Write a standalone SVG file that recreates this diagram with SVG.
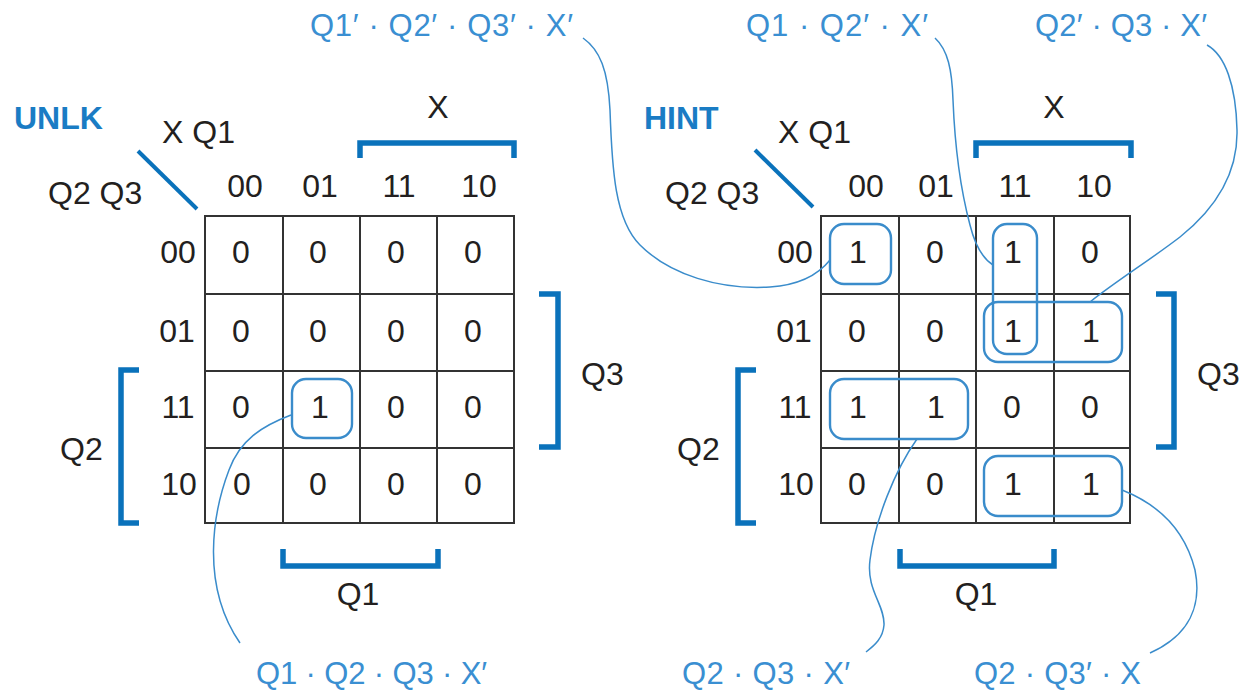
<svg xmlns="http://www.w3.org/2000/svg" width="1240" height="691" viewBox="0 0 1240 691">
<style>
text{font-family:"Liberation Sans",Arial,sans-serif;font-size:32px;fill:#231f20}
.d{text-anchor:middle}
.title{font-weight:bold;fill:#1a7cc4;font-size:32px}
.term{fill:#3a8fd2;font-size:31px}
.grid{fill:none;stroke:#333;stroke-width:2}
.br{fill:none;stroke:#0a72bb;stroke-width:5.5}
.diag{stroke:#0a72bb;stroke-width:4}
.loop{fill:none;stroke:#3a8ccb;stroke-width:2.4}
.conn{fill:none;stroke:#3a8ccb;stroke-width:1.5}
</style>
<rect width="1240" height="691" fill="#fff"/>

<g id="unlk-map">
  <text class="title" x="14" y="129">UNLK</text>
  <text x="162" y="143">X Q1</text>
  <text x="48" y="204">Q2 Q3</text>
  <line class="diag" x1="138" y1="151" x2="197" y2="209"/>
  <text class="d" x="438" y="118">X</text>
  <path class="br" d="M360,158 V143 H514 V158"/>
  <text class="d" x="245" y="197">00</text>
  <text class="d" x="320" y="197">01</text>
  <text class="d" x="399" y="197">11</text>
  <text class="d" x="479" y="197">10</text>
  <text class="d" x="178" y="263">00</text>
  <text class="d" x="177" y="342">01</text>
  <text class="d" x="178" y="418">11</text>
  <text class="d" x="179" y="495">10</text>
  <path class="grid" d="M205,216 H514 V523 H205 Z M283,216 V523 M360,216 V523 M437,216 V523 M205,294 H514 M205,371 H514 M205,448 H514"/>
  <g class="cells">
    <text class="d" x="241" y="263">0</text><text class="d" x="318" y="263">0</text><text class="d" x="396" y="263">0</text><text class="d" x="473" y="263">0</text>
    <text class="d" x="241" y="342">0</text><text class="d" x="318" y="342">0</text><text class="d" x="396" y="342">0</text><text class="d" x="473" y="342">0</text>
    <text class="d" x="241" y="418">0</text><text class="d" x="320" y="418">1</text><text class="d" x="396" y="418">0</text><text class="d" x="473" y="418">0</text>
    <text class="d" x="242" y="495">0</text><text class="d" x="318" y="495">0</text><text class="d" x="396" y="495">0</text><text class="d" x="473" y="495">0</text>
  </g>
  <rect class="loop" x="292" y="379" width="60" height="59" rx="14"/>
  <path class="br" d="M539,294 H558 V447 H539"/>
  <text x="581" y="385">Q3</text>
  <path class="br" d="M139,370 H121 V523 H139"/>
  <text x="60" y="460">Q2</text>
  <path class="br" d="M283,549 V566 H438 V549"/>
  <text class="d" x="358" y="605">Q1</text>
</g>

<g id="hint-map">
  <text class="title" x="644" y="129">HINT</text>
  <text x="778" y="143">X Q1</text>
  <text x="665" y="204">Q2 Q3</text>
  <line class="diag" x1="755" y1="150" x2="813" y2="207"/>
  <text class="d" x="1054" y="118">X</text>
  <path class="br" d="M976,158 V143 H1131 V158"/>
  <text class="d" x="866" y="197">00</text>
  <text class="d" x="936" y="197">01</text>
  <text class="d" x="1015" y="197">11</text>
  <text class="d" x="1094" y="197">10</text>
  <text class="d" x="795" y="263">00</text>
  <text class="d" x="794" y="342">01</text>
  <text class="d" x="795" y="418">11</text>
  <text class="d" x="796" y="495">10</text>
  <path class="grid" d="M821,216 H1130 V523 H821 Z M899,216 V523 M976,216 V523 M1054,216 V523 M821,294 H1130 M821,371 H1130 M821,448 H1130"/>
  <g class="cells">
    <text class="d" x="858" y="263">1</text><text class="d" x="935" y="263">0</text><text class="d" x="1013" y="263">1</text><text class="d" x="1090" y="263">0</text>
    <text class="d" x="857" y="342">0</text><text class="d" x="935" y="342">0</text><text class="d" x="1013" y="342">1</text><text class="d" x="1091" y="342">1</text>
    <text class="d" x="858" y="418">1</text><text class="d" x="936" y="418">1</text><text class="d" x="1012" y="418">0</text><text class="d" x="1090" y="418">0</text>
    <text class="d" x="857" y="495">0</text><text class="d" x="935" y="495">0</text><text class="d" x="1013" y="495">1</text><text class="d" x="1091" y="495">1</text>
  </g>
  <rect class="loop" x="830" y="224" width="61" height="60" rx="14"/>
  <rect class="loop" x="993" y="224" width="44" height="130" rx="14"/>
  <rect class="loop" x="984" y="302" width="138" height="60" rx="14"/>
  <rect class="loop" x="830" y="379" width="138" height="60" rx="14"/>
  <rect class="loop" x="984" y="456" width="138" height="60" rx="14"/>
  <path class="br" d="M1156,294 H1174 V447 H1156"/>
  <text x="1197" y="385">Q3</text>
  <path class="br" d="M756,370 H738 V523 H756"/>
  <text x="677" y="460">Q2</text>
  <path class="br" d="M900,549 V566 H1054 V549"/>
  <text class="d" x="976" y="605">Q1</text>
</g>

<g id="term-q1n-q2n-q3n-xn"><text class="term" x="310" y="36" textLength="263" lengthAdjust="spacing">Q1′ · Q2′ · Q3′ · X′</text></g>
<g id="term-q1-q2n-xn"><text class="term" x="746" y="36" textLength="182" lengthAdjust="spacing">Q1 · Q2′ · X′</text></g>
<g id="term-q2n-q3-xn"><text class="term" x="1035" y="36" textLength="172" lengthAdjust="spacing">Q2′ · Q3 · X′</text></g>
<g id="term-q1-q2-q3-xn"><text class="term" x="256" y="684" textLength="231" lengthAdjust="spacing">Q1 · Q2 · Q3 · X′</text></g>
<g id="term-q2-q3-xn"><text class="term" x="682" y="684" textLength="168" lengthAdjust="spacing">Q2 · Q3 · X′</text></g>
<g id="term-q2-q3n-x"><text class="term" x="974" y="684" textLength="167" lengthAdjust="spacing">Q2 · Q3′ · X</text></g>

<g id="connectors">
  <path class="conn" d="M291,415 C262,426 240,440 229,470 C213,512 200,585 240,643"/>
  <path class="conn" d="M583,38 C600,50 608,70 610,110 C612,170 615,220 640,245 C670,275 720,290 770,287 C800,285 818,275 830,260"/>
  <path class="conn" d="M935,38 C948,50 952,70 953,100 C955,150 962,195 970,225 C975,245 982,258 993,265"/>
  <path class="conn" d="M1207,45 C1225,55 1236,85 1237,130 C1238,170 1220,205 1180,237 C1150,260 1115,282 1090,302"/>
  <path class="conn" d="M917,439 C895,470 875,520 870,560 C866,590 885,605 884,625 C883,638 875,645 866,652"/>
  <path class="conn" d="M1122,490 C1160,505 1185,530 1195,570 C1202,605 1190,635 1150,653"/>
</g>
</svg>
